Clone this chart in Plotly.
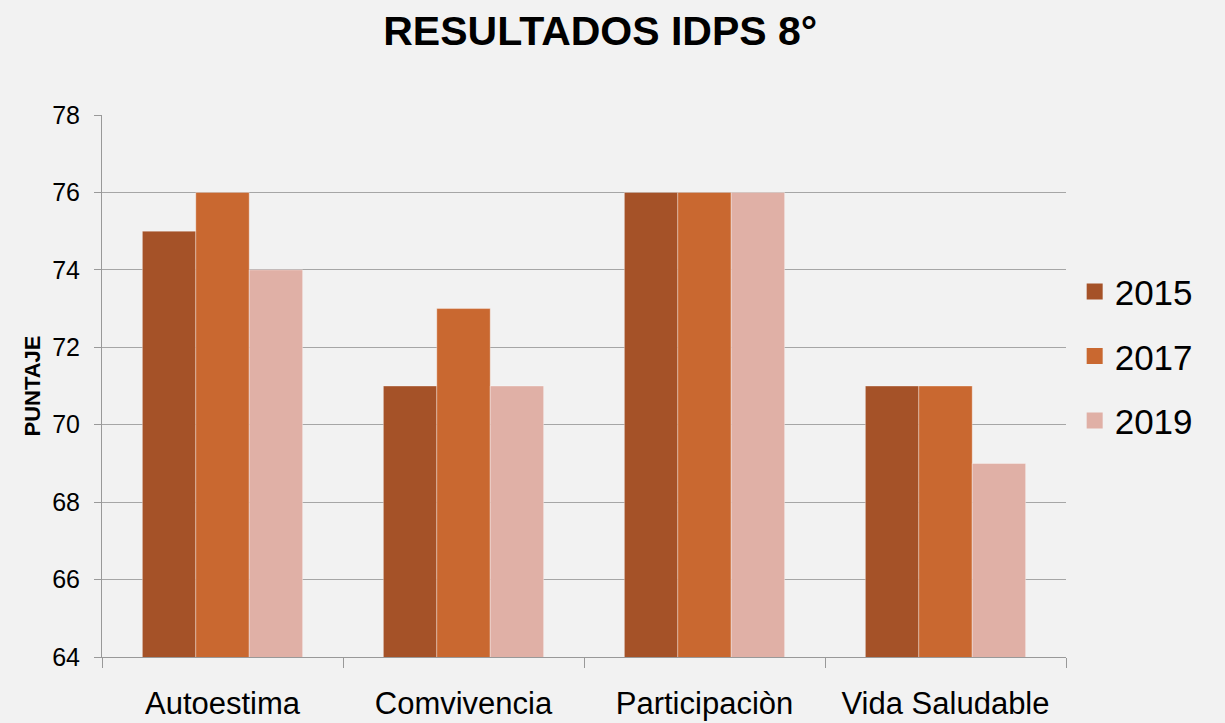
import plotly.graph_objects as go

categories = ["Autoestima", "Comvivencia", "Participaciòn", "Vida Saludable"]
years = ["2015", "2017", "2019"]
values_2015 = [75, 71, 76, 71]
values_2017 = [76, 73, 76, 71]
values_2019 = [74, 71, 76, 69]
colors = ["#a55228", "#c96830", "#e0b0a6"]

FONT = "Liberation Sans Narrow, Arial Narrow, Liberation Sans, Arial, sans-serif"

fig = go.Figure()
for i, (yr, vals) in enumerate(zip(years, [values_2015, values_2017, values_2019])):
    fig.add_trace(go.Bar(
        x=categories, y=vals, name=yr,
        marker=dict(color=colors[i], line=dict(color="rgba(255,255,255,0.35)", width=1)),
        legendgroup=yr, showlegend=False,
    ))
# legend entries with larger square swatches
for i, yr in enumerate(years):
    fig.add_trace(go.Scatter(
        x=[None], y=[None], mode="markers", name=yr, legendgroup=yr,
        marker=dict(symbol="square", size=24, color=colors[i]),
    ))

fig.update_layout(
    width=1225, height=723,
    paper_bgcolor="#f2f2f2", plot_bgcolor="#f2f2f2",
    margin=dict(l=102, r=159, t=115, b=66, autoexpand=False),
    barmode="group", bargap=0.335, bargroupgap=0,
    font=dict(family=FONT, color="#000000"),
    title=dict(text="<b>RESULTADOS IDPS 8°</b>", x=0.49, xanchor="center",
               y=0.958, yanchor="middle", font=dict(size=41, family=FONT)),
    legend=dict(x=1.009, xanchor="left", y=0.555, yanchor="middle",
                font=dict(size=35, family=FONT), tracegroupgap=16,
                itemsizing="trace", bgcolor="rgba(0,0,0,0)"),
    showlegend=True,
)
fig.update_xaxes(
    showline=True, linecolor="#999999", linewidth=1,
    ticks="outside", tickson="boundaries", ticklen=10, tickcolor="#999999",
    tickfont=dict(size=31, family=FONT), showgrid=False, tickangle=0,
    automargin=False, ticklabelstandoff=19,
)
fig.update_yaxes(
    range=[64, 78], dtick=2, showline=True, linecolor="#999999", linewidth=1,
    ticks="outside", ticklen=7, tickcolor="#999999",
    showgrid=True, gridcolor="#a6a6a6", gridwidth=1,
    tickfont=dict(size=25, family=FONT), zeroline=False, automargin=False,
    ticklabelstandoff=9,
    title=dict(text="<b>PUNTAJE</b>", font=dict(size=22, family=FONT), standoff=5),
)
fig.write_html(
    "out.html",
    config={"displayModeBar": False},
    post_script="document.body.style.margin='0';document.body.style.background='#f2f2f2';",
)
